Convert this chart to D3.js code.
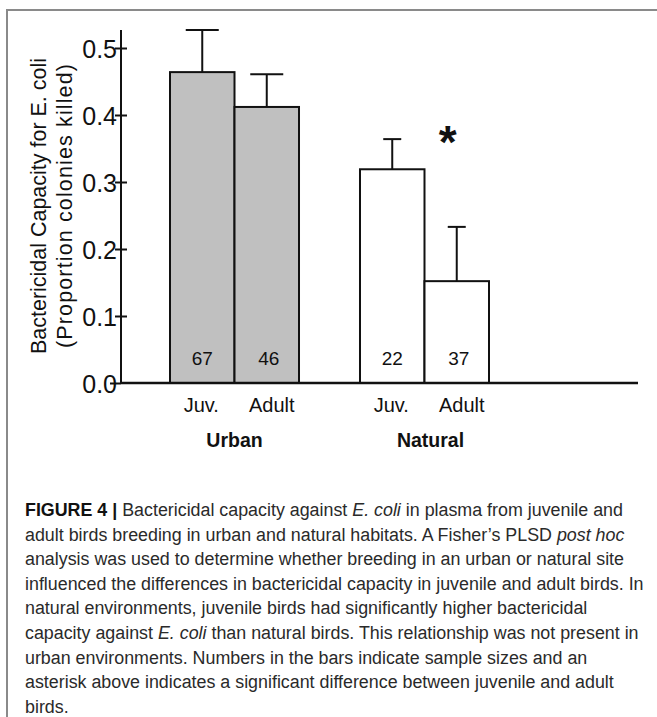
<!DOCTYPE html>
<html>
<head>
<meta charset="utf-8">
<script src="https://cdn.jsdelivr.net/npm/d3@7"></script>
<style>
  html, body { margin: 0; padding: 0; background: #fff; }
  svg { display: block; }
  text { font-family: "Liberation Sans", Arial, Helvetica, sans-serif; }
</style>
</head>
<body>
<svg id="chart" width="657" height="717"></svg>
<script>
// Habitat groups and age classes
const habitats = ["Urban", "Natural"];
const ages = ["Juv.", "Adult"];

// Mean bactericidal capacity (proportion of colonies killed), per habitat x age
const meanUrban = [0.464, 0.412];
const meanNatural = [0.319, 0.152];

// Standard error (upper whisker only)
const seUrban = [0.063, 0.049];
const seNatural = [0.045, 0.081];

// Sample sizes printed inside the bars
const nUrban = [67, 46];
const nNatural = [22, 37];

// Y-axis ticks
const yTicks = [0.0, 0.1, 0.2, 0.3, 0.4, 0.5];
const yAxisTop = 0.527;

// Significant juvenile/adult difference
const significant = ["Natural"];

const captionLines = [
  [["b", "FIGURE 4 |"], ["n", " Bactericidal capacity against "], ["i", "E. coli"], ["n", " in plasma from juvenile and"]],
  [["n", "adult birds breeding in urban and natural habitats. A Fisher\u2019s PLSD "], ["i", "post hoc"]],
  [["n", "analysis was used to determine whether breeding in an urban or natural site"]],
  [["n", "influenced the differences in bactericidal capacity in juvenile and adult birds. In"]],
  [["n", "natural environments, juvenile birds had significantly higher bactericidal"]],
  [["n", "capacity against "], ["i", "E. coli"], ["n", " than natural birds. This relationship was not present in"]],
  [["n", "urban environments. Numbers in the bars indicate sample sizes and an"]],
  [["n", "asterisk above indicates a significant difference between juvenile and adult"]],
  [["n", "birds."]]
];

// Build the table the drawing code uses
const rows = [];
habitats.forEach((h, gi) => {
  const means = gi === 0 ? meanUrban : meanNatural;
  const ses = gi === 0 ? seUrban : seNatural;
  const ns = gi === 0 ? nUrban : nNatural;
  ages.forEach((a, ai) => rows.push({ habitat: h, age: a, mean: means[ai], se: ses[ai], n: ns[ai] }));
});

const svg = d3.select("#chart");

// Panel frame (top and left rules)
svg.append("path")
  .attr("d", "M7,717 L7,10 L657,10")
  .attr("fill", "none")
  .attr("stroke", "#8a8a8a")
  .attr("stroke-width", 2);

const y = d3.scaleLinear().domain([0, 0.5]).range([383, 48]);
const axisX = 121;

const xGroup = d3.scaleBand().domain(habitats).range([170, 489]).paddingInner(0.321).paddingOuter(0);
const xAge = d3.scaleBand().domain(ages).range([0, xGroup.bandwidth()]).padding(0);
const barX = d => xGroup(d.habitat) + xAge(d.age);
const barC = d => barX(d) + xAge.bandwidth() / 2;
const capHalf = { "Urban": 16.5, "Natural": 9 };

const g = svg.append("g");

// Bars
g.selectAll("rect.bar").data(rows).join("rect")
  .attr("class", "bar")
  .attr("x", barX)
  .attr("y", d => y(d.mean))
  .attr("width", xAge.bandwidth())
  .attr("height", d => y(0) - y(d.mean))
  .attr("fill", d => d.habitat === "Urban" ? "#c0c0c0" : "#ffffff")
  .attr("stroke", "#111")
  .attr("stroke-width", 2);

// Error bars (upper)
g.selectAll("line.err").data(rows).join("line")
  .attr("class", "err")
  .attr("x1", barC).attr("x2", barC)
  .attr("y1", d => y(d.mean)).attr("y2", d => y(d.mean + d.se))
  .attr("stroke", "#111").attr("stroke-width", 2);
g.selectAll("line.cap").data(rows).join("line")
  .attr("class", "cap")
  .attr("x1", d => barC(d) - capHalf[d.habitat]).attr("x2", d => barC(d) + capHalf[d.habitat])
  .attr("y1", d => y(d.mean + d.se)).attr("y2", d => y(d.mean + d.se))
  .attr("stroke", "#111").attr("stroke-width", 2);

// Sample sizes
g.selectAll("text.n").data(rows).join("text")
  .attr("class", "n")
  .attr("x", d => barC(d) + (d.age === "Adult" ? 2 : 0))
  .attr("y", y(0) - 18)
  .attr("text-anchor", "middle")
  .attr("font-size", 19)
  .attr("fill", "#111")
  .text(d => d.n);

// Significance marker
rows.filter(d => significant.includes(d.habitat) && d.age === "Adult").forEach(d => {
  const juv = rows.find(r => r.habitat === d.habitat && r.age === "Juv.");
  g.append("text")
    .attr("x", barC(d) - 9)
    .attr("y", y(juv.mean + juv.se) + 19)
    .attr("text-anchor", "middle")
    .attr("font-size", 46)
    .attr("font-weight", "bold")
    .attr("fill", "#111")
    .text("*");
});

// Y axis
const yAxis = d3.axisLeft(y).tickValues(yTicks).tickFormat(d3.format(".1f")).tickSize(0).tickPadding(4);
const ya = svg.append("g").attr("transform", `translate(${axisX},0)`).call(yAxis);
ya.select(".domain").remove();
ya.selectAll(".tick text").attr("font-size", 25).attr("fill", "#111")
  .attr("font-family", "'Liberation Sans', Arial, sans-serif").attr("dy", "0.36em");
ya.selectAll(".tick").filter(d => d > 0).append("line")
  .attr("x1", -6).attr("x2", 6).attr("stroke", "#111").attr("stroke-width", 2);
ya.selectAll(".tick").filter(d => d === 0).append("line")
  .attr("x1", -11).attr("x2", 0).attr("stroke", "#111").attr("stroke-width", 2);
svg.append("line")
  .attr("x1", axisX).attr("x2", axisX)
  .attr("y1", y(0) + 1).attr("y2", y(yAxisTop))
  .attr("stroke", "#111").attr("stroke-width", 2);

// Baseline
svg.append("line")
  .attr("x1", axisX).attr("x2", 638)
  .attr("y1", y(0)).attr("y2", y(0))
  .attr("stroke", "#111").attr("stroke-width", 2.5);

// Y-axis title (two lines)
const titleY = 206;
[["Bactericidal Capacity for E. coli", 46, 296], ["(Proportion colonies killed)", 72, 284]].forEach(([t, bx, len]) => {
  svg.append("text")
    .attr("transform", `translate(${bx},${titleY}) rotate(-90)`)
    .attr("text-anchor", "middle")
    .attr("font-size", 21.5)
    .attr("fill", "#111")
    .attr("textLength", len)
    .attr("lengthAdjust", "spacing")
    .text(t);
});

// Age labels under each bar
svg.selectAll("text.age").data(rows).join("text")
  .attr("class", "age")
  .attr("x", d => barC(d) + (d.age === "Adult" ? 5 : -1))
  .attr("y", 412)
  .attr("text-anchor", "middle")
  .attr("font-size", 20)
  .attr("fill", "#111")
  .text(d => d.age);

// Habitat labels
svg.selectAll("text.hab").data(habitats).join("text")
  .attr("class", "hab")
  .attr("x", h => xGroup(h) + xGroup.bandwidth() / 2 + (h === "Natural" ? 6 : 0))
  .attr("y", 447)
  .attr("text-anchor", "middle")
  .attr("font-size", 19.5)
  .attr("font-weight", "bold")
  .attr("fill", "#111")
  .text(h => h);

// Caption
const cap = svg.append("g");
const capX = 25, capY0 = 516, capStep = 24.6;
const lineNodes = captionLines.map((parts, i) => {
  const t = cap.append("text")
    .attr("x", 0).attr("y", 0)
    .attr("font-size", 19)
    .attr("fill", "#2a2a2a")
    .style("white-space", "pre")
    .attr("font-family", "'Liberation Sans Narrow', 'Liberation Sans', Arial, sans-serif");
  parts.forEach(([s, str]) => {
    const ts = t.append("tspan").text(str);
    if (s === "b") ts.attr("font-weight", "bold").attr("fill", "#111");
    if (s === "i") ts.attr("font-style", "italic");
  });
  return t;
});
// Condense horizontally so the longest line fills the column width
const natural = lineNodes[3].node().getComputedTextLength();
const k = (644 - capX) / natural;
lineNodes.forEach((t, i) => t.attr("transform", `translate(${capX},${capY0 + i * capStep}) scale(${k},1)`));
</script>
</body>
</html>
